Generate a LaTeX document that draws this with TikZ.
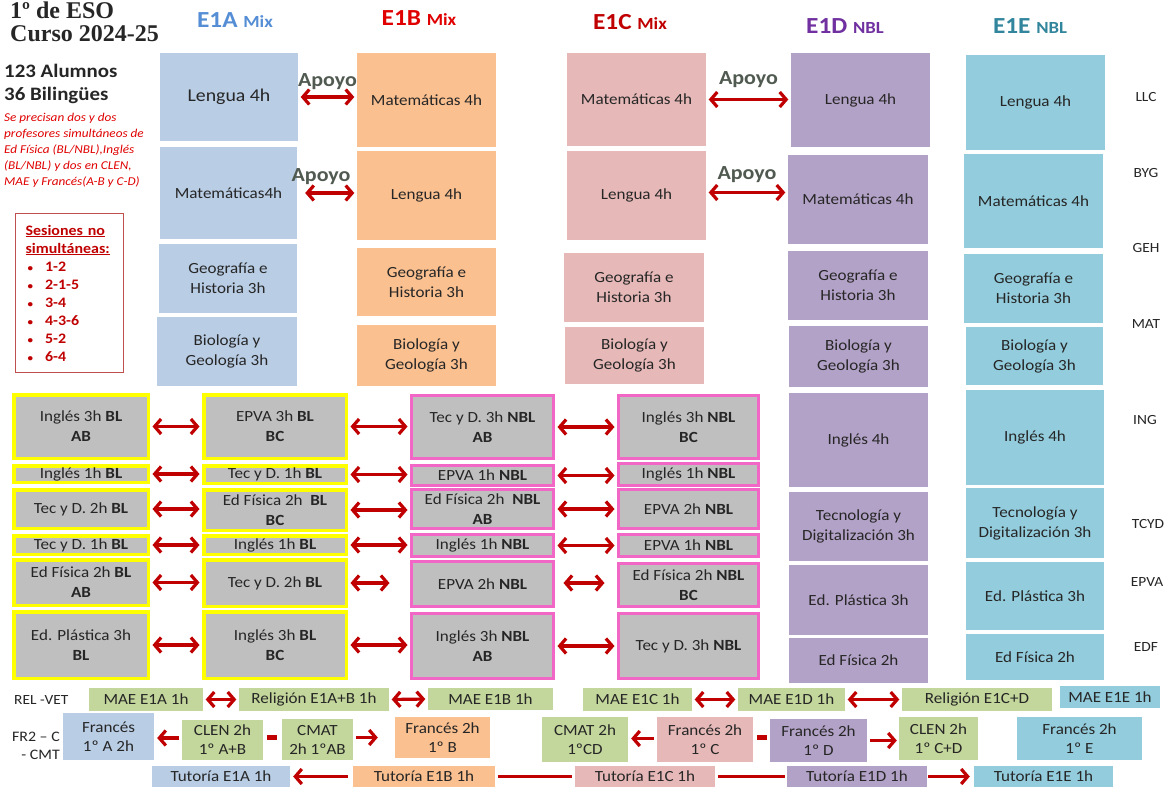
\documentclass[tikz,border=0pt]{standalone}
\usepackage{fontspec}
\setmainfont{Carlito}[FakeStretch=1.1]
\newfontfamily\headfont{Liberation Serif}
\usetikzlibrary{arrows.meta}

\definecolor{colA}{HTML}{B9CDE5}
\definecolor{colB}{HTML}{FAC090}
\definecolor{colC}{HTML}{E6B9B8}
\definecolor{colD}{HTML}{B3A2C7}
\definecolor{colE}{HTML}{93CDDD}
\definecolor{colG}{HTML}{C3D69B}
\definecolor{grisbox}{HTML}{BFBFBF}
\definecolor{amarillo}{HTML}{FFFF00}
\definecolor{rosa}{HTML}{F266C6}
\definecolor{rojo}{HTML}{C00000}
\definecolor{nota}{HTML}{E00000}
\definecolor{txt}{HTML}{262626}
\definecolor{hA}{HTML}{558ED5}
\definecolor{hB}{HTML}{E00000}
\definecolor{hC}{HTML}{C00000}
\definecolor{hD}{HTML}{7030A0}
\definecolor{hE}{HTML}{31859C}
\definecolor{apoyo}{HTML}{505A50}
\definecolor{sesborde}{HTML}{C0504D}

\newcommand{\fsz}[2]{\fontsize{#1}{#2}\selectfont}
\newcommand{\punto}{\hspace*{2pt}{\fsz{10}{18}\textbullet}\hspace{12pt}}

\begin{document}
\begin{tikzpicture}[x=1pt, y=-1pt,
    every node/.style={inner sep=0pt, text=txt, font=\fsz{15.5}{20}},
    celda/.style n args={3}{fill=#1, minimum width=#2pt, minimum height=#3pt, align=center},
    gris/.style n args={3}{fill=grisbox, draw=#1, line width=3.5pt, minimum width=#2pt, minimum height=#3pt, align=center},
    grisn/.style n args={2}{fill=grisbox, draw=rosa, line width=3pt, minimum width=#1pt, minimum height=#2pt, align=center},
    >={Straight Barb[length=6.5pt,width=15pt]},
    duo/.style={draw=rojo, line width=3.2pt, <->, shorten <=2.5pt, shorten >=2.5pt},
    uni/.style={draw=rojo, line width=3.2pt, ->, shorten <=3pt, shorten >=3pt},
    raya/.style={draw=rojo, line width=3pt, shorten <=3pt, shorten >=3pt},
    apoyotxt/.style={text=apoyo, font=\bfseries\fsz{20}{22}},
    sigla/.style={font=\fsz{14}{16}}]

\useasboundingbox (0,0) rectangle (1171,788);
\fill[white] (0,0) rectangle (1171,788);

% titles and notes
\node[anchor=base west, font=\headfont\bfseries\fsz{24}{26}] (tit1) at (10,18) {1º de ESO};
\node[anchor=base west, font=\headfont\bfseries\fsz{24}{26}] (tit2) at (10,41) {Curso 2024-25};
\node[anchor=base west, font=\bfseries\fsz{19}{22}] (alum) at (4,77) {123 Alumnos};
\node[anchor=base west, font=\bfseries\fsz{19}{22}] (bil) at (4,100) {36 Bilingües};
\node[anchor=north west, align=left, text=nota, font=\itshape\fsz{12}{16}] (nota) at (4,113)
    {Se precisan dos y dos\\profesores simultáneos de\\Ed Física (BL/NBL),Inglés\\(BL/NBL) y dos en CLEN,\\MAE y Francés(A-B y C-D)};
\node[draw=sesborde, line width=1.2pt, anchor=north west, text width=88pt, inner xsep=10pt,
    minimum height=159pt, align=left, text=rojo, font=\bfseries\fsz{14.5}{18}] (ses) at (15,213)
    {\underline{Sesiones no}\\\underline{simultáneas:}\\
     \punto 1-2\\\punto 2-1-5\\\punto 3-4\\\punto 4-3-6\\\punto 5-2\\\punto 6-4};

% group headers
\node[anchor=base, text=hA, font=\bfseries] (hdA) at (235,27) {\fsz{23}{25}E1A \fsz{17}{20}Mix};
\node[anchor=base, text=hB, font=\bfseries] (hdB) at (419,25) {\fsz{23}{25}E1B \fsz{17}{20}Mix};
\node[anchor=base, text=hC, font=\bfseries] (hdC) at (630,29) {\fsz{23}{25}E1C \fsz{17}{20}Mix};
\node[anchor=base, text=hD, font=\bfseries] (hdD) at (845,33) {\fsz{23}{25}E1D \fsz{17}{20}NBL};
\node[anchor=base, text=hE, font=\bfseries] (hdE) at (1030,33) {\fsz{23}{25}E1E \fsz{17}{20}NBL};

% E1A
\node[celda={colA}{138}{88}, font=\fsz{18}{22}] (a1) at (229,97) {Lengua 4h};
\node[celda={colA}{137}{92}] (a2) at (228.5,193) {Matemáticas4h};
\node[celda={colA}{138}{69}] (a3) at (228,278.5) {Geografía e\\Historia 3h};
\node[celda={colA}{140}{69}] (a4) at (227,351.5) {Biología y\\Geología 3h};
% E1B
\node[celda={colB}{139}{94}] (b1) at (426.5,100) {Matemáticas 4h};
\node[celda={colB}{139}{89}] (b2) at (426.5,195.5) {Lengua 4h};
\node[celda={colB}{139}{68}] (b3) at (426.5,282) {Geografía e\\Historia 3h};
\node[celda={colB}{139}{61}] (b4) at (426.5,355.5) {Biología y\\Geología 3h};
% E1C
\node[celda={colC}{139}{93}] (c1) at (636.5,99.5) {Matemáticas 4h};
\node[celda={colC}{139}{89}] (c2) at (636.5,195.5) {Lengua 4h};
\node[celda={colC}{140}{69}] (c3) at (634,287.5) {Geografía e\\Historia 3h};
\node[celda={colC}{139}{57}] (c4) at (634.5,355.5) {Biología y\\Geología 3h};
% E1D
\node[celda={colD}{139}{94}] (d1) at (860.5,100) {Lengua 4h};
\node[celda={colD}{140}{89}] (d2) at (858,199.5) {Matemáticas 4h};
\node[celda={colD}{140}{69}] (d3) at (858,285.5) {Geografía e\\Historia 3h};
\node[celda={colD}{139}{61}] (d4) at (858.5,356.5) {Biología y\\Geología 3h};
\node[celda={colD}{139}{94}] (d5) at (858.5,440) {Inglés 4h};
\node[celda={colD}{139}{69}] (d6) at (858.5,526.5) {Tecnología y\\Digitalización 3h};
\node[celda={colD}{139}{70}] (d7) at (858.5,600) {Ed. Plástica 3h};
\node[celda={colD}{139}{45}] (d8) at (858.5,660.5) {Ed Física 2h};
% E1E
\node[celda={colE}{139}{95}] (e1) at (1035.5,102.5) {Lengua 4h};
\node[celda={colE}{139}{94}] (e2) at (1033.5,201) {Matemáticas 4h};
\node[celda={colE}{139}{69}] (e3) at (1033.5,288.5) {Geografía e\\Historia 3h};
\node[celda={colE}{137}{58}] (e4) at (1034.5,356) {Biología y\\Geología 3h};
\node[celda={colE}{138}{95}] (e5) at (1035,437.5) {Inglés 4h};
\node[celda={colE}{138}{70}] (e6) at (1035,523) {Tecnología y\\Digitalización 3h};
\node[celda={colE}{138}{68}] (e7) at (1035,596) {Ed. Plástica 3h};
\node[celda={colE}{138}{46}] (e8) at (1035,657) {Ed Física 2h};

% subject codes
\node[sigla] (llc) at (1146,97) {LLC};
\node[sigla] (byg) at (1146,173) {BYG};
\node[sigla] (geh) at (1146,248) {GEH};
\node[sigla] (mat) at (1146,324) {MAT};
\node[sigla] (ing) at (1145,420) {ING};
\node[sigla] (tcyd) at (1148,524) {TCYD};
\node[sigla] (epva) at (1147,582) {EPVA};
\node[sigla] (edf) at (1146,647) {EDF};

% Apoyo
\draw[duo] (a1.east) -- (a1.east -| b1.west) node[midway, above=6pt, apoyotxt] (ap1) {Apoyo};
\draw[duo, shorten <=8pt] (a2.east) -- (a2.east -| b2.west) node[pos=0.4, above=7pt, apoyotxt] (ap2) {Apoyo};
\draw[duo] (c1.east) -- (c1.east -| d1.west) node[midway, above=10pt, apoyotxt] (ap3) {Apoyo};
\draw[duo] ([yshift=3pt]c2.east) -- ([yshift=3pt]c2.east -| d2.west) node[midway, above=8pt, apoyotxt] (ap4) {Apoyo};

% BL groups
\node[gris={amarillo}{134.5}{63.5}] (g11) at (81,426.5) {Inglés 3h \textbf{BL}\\\textbf{AB}};
\node[gris={amarillo}{134.5}{16.5}] (g12) at (81,474) {Inglés 1h \textbf{BL}};
\node[gris={amarillo}{134.5}{38.5}] (g13) at (81,509) {Tec y D. 2h \textbf{BL}};
\node[gris={amarillo}{134.5}{18.5}] (g14) at (81,545) {Tec y D. 1h \textbf{BL}};
\node[gris={amarillo}{134.5}{45.5}] (g15) at (81,582.5) {Ed Física 2h \textbf{BL}\\\textbf{AB}};
\node[gris={amarillo}{134.5}{66.5}] (g16) at (81,645) {Ed. Plástica 3h\\\textbf{BL}};

\node[gris={amarillo}{142.5}{63.5}] (g21) at (275,426.5) {EPVA 3h \textbf{BL}\\\textbf{BC}};
\node[gris={amarillo}{142.5}{17.5}] (g22) at (275,474.5) {Tec y D. 1h \textbf{BL}};
\node[gris={amarillo}{142.5}{40.5}] (g23) at (275,510) {Ed Física 2h~ \textbf{BL}\\\textbf{BC}};
\node[gris={amarillo}{142.5}{18.5}] (g24) at (275,545) {Inglés 1h \textbf{BL}};
\node[gris={amarillo}{142.5}{46.5}] (g25) at (275,583) {Tec y D. 2h \textbf{BL}};
\node[gris={amarillo}{142.5}{66.5}] (g26) at (275,645) {Inglés 3h \textbf{BL}\\\textbf{BC}};

% NBL groups
\node[grisn={142}{63}] (g31) at (482.5,427) {Tec y D. 3h \textbf{NBL}\\\textbf{AB}};
\node[grisn={142}{20}] (g32) at (482.5,475.5) {EPVA 1h \textbf{NBL}};
\node[grisn={142}{39}] (g33) at (482.5,509) {Ed Física 2h~ \textbf{NBL}\\\textbf{AB}};
\node[grisn={142}{22}] (g34) at (482.5,545.5) {Inglés 1h \textbf{NBL}};
\node[grisn={142}{45}] (g35) at (482.5,584) {EPVA 2h \textbf{NBL}};
\node[grisn={142}{65}] (g36) at (482.5,646) {Inglés 3h \textbf{NBL}\\\textbf{AB}};

\node[grisn={140}{63}] (g41) at (688.5,427) {Inglés 3h \textbf{NBL}\\\textbf{BC}};
\node[grisn={140}{22}] (g42) at (688.5,474.5) {Inglés 1h \textbf{NBL}};
\node[grisn={140}{39}] (g43) at (688.5,509) {EPVA 2h \textbf{NBL}};
\node[grisn={140}{22}] (g44) at (688.5,545.5) {EPVA 1h \textbf{NBL}};
\node[grisn={140}{43}] (g45) at (688.5,585) {Ed Física 2h \textbf{NBL}\\\textbf{BC}};
\node[grisn={140}{65}] (g46) at (688.5,646) {Tec y D. 3h \textbf{NBL}};

% links between groups
\draw[duo] (g11.east) -- (g11.east -| g21.west);
\draw[duo] (g12.east) -- (g12.east -| g22.west);
\draw[duo] (g13.east) -- (g13.east -| g23.west);
\draw[duo] (g14.east) -- (g14.east -| g24.west);
\draw[duo] (g15.east) -- (g15.east -| g25.west);
\draw[duo] (g16.east) -- (g16.east -| g26.west);

\draw[duo] (g21.east) -- (g21.east -| g31.west);
\draw[duo] (g22.east) -- (g22.east -| g32.west);
\draw[duo] (g23.east) -- (g23.east -| g33.west);
\draw[duo] (g24.east) -- (g24.east -| g34.west);
\coordinate (q1) at (392,583);
\draw[duo] (g25.east) -- (q1);
\draw[duo] (g26.east) -- (g26.east -| g36.west);

\draw[duo] (g31.east) -- (g31.east -| g41.west);
\draw[duo] (g32.east) -- (g32.east -| g42.west);
\draw[duo] (g33.east) -- (g33.east -| g43.west);
\draw[duo] (g34.east) -- (g34.east -| g44.west);
\coordinate (q2) at (561,583);
\coordinate (q3) at (607,583);
\draw[duo] (q2) -- (q3);
\draw[duo] (g36.east) -- (g36.east -| g46.west);

% REL - VET
\node[sigla, anchor=west] (rel) at (14,700) {REL -VET};
\node[celda={colG}{114}{23}] (m1) at (146,699.5) {MAE E1A 1h};
\node[celda={colG}{150}{23}] (m2) at (314,699.5) {Religión E1A+B 1h};
\node[celda={colG}{125}{22}] (m3) at (490.5,699) {MAE E1B 1h};
\node[celda={colG}{109}{23}] (m4) at (637.5,699.5) {MAE E1C 1h};
\node[celda={colG}{107}{23}] (m5) at (791.5,699.5) {MAE E1D 1h};
\node[celda={colG}{150}{23}] (m6) at (977,699.5) {Religión E1C+D};
\node[celda={colE}{100}{22}] (m7) at (1110,697) {MAE E1E 1h};
\draw[duo] (m1.east) -- (m2.west);
\draw[duo] (m2.east) -- (m3.west);
\draw[duo] (m4.east) -- (m5.west);
\draw[duo] (m5.east) -- (m6.west);

% FR2 - C - CMT
\node[font=\fsz{14.5}{18}, align=right, anchor=east] (fr2) at (60,746) {FR2 – C\\- CMT};
\node[celda={colA}{91}{47}, font=\fsz{15.5}{19}] (fa) at (108.5,736.5) {Francés\\1º A 2h};
\node[celda={colG}{81}{40}, font=\fsz{15.5}{19}] (cl1) at (222.5,740) {CLEN 2h\\1º A+B};
\node[celda={colG}{71}{41}, font=\fsz{15.5}{19}] (cm1) at (317.5,739.5) {CMAT\\2h 1ºAB};
\node[celda={colB}{95}{41}, font=\fsz{15.5}{19}] (fb) at (442.5,737.5) {Francés 2h\\1º B};
\node[celda={colG}{86}{45}, font=\fsz{15.5}{19}] (cm2) at (585,739.5) {CMAT 2h\\1ºCD};
\node[celda={colC}{96}{45}, font=\fsz{15.5}{19}] (fc) at (705,739.5) {Francés 2h\\1º C};
\node[celda={colD}{97}{43}, font=\fsz{15.5}{19}] (fd) at (818.5,740.5) {Francés 2h\\1º D};
\node[celda={colG}{79}{43}, font=\fsz{15.5}{19}] (cl2) at (938.5,738.5) {CLEN 2h\\1º C+D};
\node[celda={colE}{125}{43}, font=\fsz{15.5}{19}] (fe) at (1079.5,738.5) {Francés 2h\\1º E};
\draw[uni] ([yshift=2pt]cl1.west) -- ([yshift=2pt]cl1.west -| fa.east);
\draw[raya, line width=5pt, shorten <=4pt, shorten >=5pt] ([yshift=3pt]cl1.east) -- ([yshift=3pt]cl1.east -| cm1.west);
\draw[uni, shorten >=17pt] ([yshift=2pt]cm1.east) -- ([yshift=2pt]cm1.east -| fb.west);
\draw[uni] ([yshift=1pt]fc.west) -- ([yshift=1pt]fc.west -| cm2.east);
\draw[raya, line width=5pt, shorten <=4pt, shorten >=3pt] ([yshift=2pt]fc.east) -- ([yshift=2pt]fc.east -| fd.west);
\draw[uni, shorten >=2pt] (fd.east) -- (fd.east -| cl2.west);

% Tutoria
\node[celda={colA}{138}{21}] (ta) at (221,776.5) {Tutoría E1A 1h};
\node[celda={colB}{142}{21}] (tb) at (424,776.5) {Tutoría E1B 1h};
\node[celda={colC}{140}{21}] (tc) at (645,776.5) {Tutoría E1C 1h};
\node[celda={colD}{140}{21}] (td) at (857,776.5) {Tutoría E1D 1h};
\node[celda={colE}{139}{21}] (te) at (1043.5,776.5) {Tutoría E1E 1h};
\draw[uni, shorten <=5pt] (tb.west) -- (ta.east);
\draw[raya] (tb.east) -- (tc.west);
\draw[raya, shorten >=2pt] (tc.east) -- (td.west);
\draw[uni, shorten <=1pt, shorten >=4pt] (td.east) -- (te.west);
\end{tikzpicture}
\end{document}
